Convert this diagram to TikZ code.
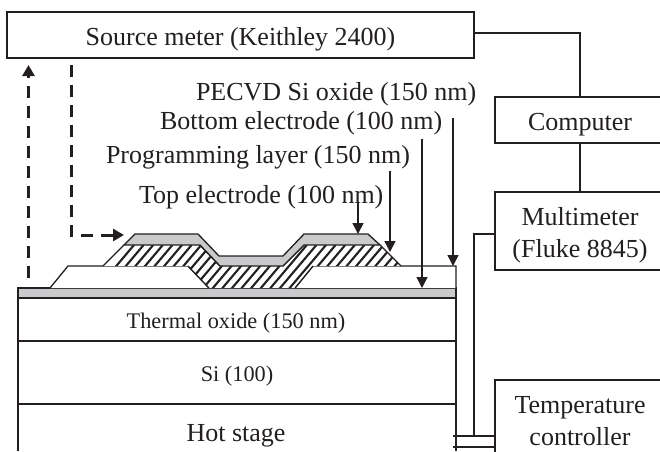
\documentclass[tikz,border=0pt]{standalone}
\usepackage{fontspec}
\setmainfont{Liberation Serif}
\usetikzlibrary{arrows.meta,calc}
\definecolor{ink}{HTML}{231F20}
\definecolor{greyfill}{HTML}{C8CACB}
\tikzset{
  x=1pt,y=-1pt,
  every node/.style={text=ink,inner sep=0pt,outer sep=0pt},
  box/.style={draw=ink,line width=1.4pt,fill=white,align=center,font=\fontsize{26}{32}\selectfont},
  oneline/.style={text height=20pt,text depth=0pt},
  wire/.style={draw=ink,line width=1.3pt},
  layer/.style={draw=ink,line width=1.3pt},
  callout/.style={font=\fontsize{26}{28}\selectfont,anchor=base west},
  pointer/.style={draw=ink,line width=1.5pt,-{Triangle[length=11pt,width=11pt]}},
  signal/.style={draw=ink,line width=3pt,dash pattern=on 12pt off 8pt,-{Triangle[length=11pt,width=12pt]}},
  laylabel/.style={font=\fontsize{22.3}{24}\selectfont,anchor=base},
}
\begin{document}
\begin{tikzpicture}
\useasboundingbox (0,0) rectangle (660,451);
\clip (0,0) rectangle (660,451);
\fill[white] (0,0) rectangle (660,451);

% stack
\draw[layer] (18,451) -- (18,288) -- (456,288) -- (456,451);
\draw[layer,fill=greyfill] (18,288) rectangle (456,298);
\draw[layer] (18,341) -- (456,341);
\draw[layer] (18,404) -- (456,404);
\node[laylabel] (thermal) at (236,328) {Thermal oxide (150 nm)};
\node[laylabel] (si) at (237,381) {Si (100)};
\node[font=\fontsize{26}{28}\selectfont,anchor=base] (hot) at (236,441) {Hot stage};

% PECVD oxide
\draw[layer,fill=white] (50,288) -- (68,266) -- (188,266) -- (209,288) -- (295,288) -- (313,266) -- (456,266) -- (456,288);

% programming layer (hatched)
\begin{scope}
  \clip (103,266) -- (124,245) -- (200,245) -- (220,266) -- (283,266) -- (304,245) -- (380,245) -- (401,266) -- (313,266) -- (295,288) -- (209,288) -- (188,266) -- cycle;
  \fill[white] (100,240) rectangle (405,290);
  \foreach \i in {0,...,36}{
    \draw[ink,line width=2.1pt] ({96+9.6*\i},290) -- ({96+9.6*\i+38},245);
  }
\end{scope}
\draw[layer] (103,266) -- (124,245);
\draw[layer] (200,245) -- (220,266);
\draw[layer] (188,266) -- (209,288);
\draw[layer] (295,288) -- (313,266);
\draw[layer] (283,266) -- (304,245);
\draw[layer] (380,245) -- (401,266);

% top electrode
\draw[layer,fill=greyfill] (124,245) -- (135,234) -- (198,234) -- (219,256) -- (283,256) -- (304,234) -- (368,234) -- (380,245) -- (304,245) -- (283,266) -- (220,266) -- (200,245) -- cycle;

% boxes
\node[box,oneline,minimum width=467pt,minimum height=46pt] (source) at (240.5,35) {Source meter (Keithley 2400)};
\node[box,oneline,minimum width=170pt,minimum height=46pt] (computer) at (580,120) {Computer};
\node[box,minimum width=170pt,minimum height=78pt] (multi) at (580,231) {\rule{0pt}{26pt}Multimeter\\(Fluke 8845)\rule[-6pt]{0pt}{6pt}};
\node[box,minimum width=170pt,minimum height=82pt] (temp) at (580,421) {Temperature\\controller};

% wires
\coordinate (wirecorner) at (580,33);
\draw[wire] (source.east |- 0,33) -- (wirecorner) -- (computer.north);
\draw[wire] (computer.south) -- (multi.north);
\coordinate (mleft) at (multi.west |- 0,234);
\coordinate (mfoot) at (474,436);
\draw[wire] (mleft) -- (474,234) -- (mfoot);
\coordinate (tA1) at (453,436);
\coordinate (tA2) at (temp.west |- 0,436);
\coordinate (tB1) at (453,447);
\coordinate (tB2) at (temp.west |- 0,447);
\draw[wire] (tA1) -- (tA2);
\draw[wire] (tB1) -- (tB2);

% callouts
\node[callout] (lpecvd) at (196,100) {PECVD Si oxide (150 nm)};
\node[callout] (lbottom) at (160,129) {Bottom electrode (100 nm)};
\node[callout] (lprog) at (106,163) {Programming layer (150 nm)};
\node[callout] (ltop) at (139,203) {Top electrode (100 nm)};

\coordinate (pa) at (453,118);
\coordinate (pb) at (453,266);
\coordinate (ba) at (422,139);
\coordinate (bb) at (422,288);
\coordinate (ga) at (390,171);
\coordinate (gb) at (390,252);
\coordinate (ta) at (358,202);
\coordinate (tb) at (358,234);
\draw[pointer] (pa) -- (pb);
\draw[pointer] (ba) -- (bb);
\draw[pointer] (ga) -- (gb);
\draw[pointer] (ta) -- (tb);

% dashed signal arrows
\coordinate (upS) at (28.5,278);
\coordinate (upE) at (28.5,65);
\draw[signal] (upS) -- (upE);
\coordinate (downS) at (71,65);
\coordinate (downC) at (71,235);
\coordinate (downE) at (124,235);
\draw[signal] (downS) -- (downC) -- (downE);
\end{tikzpicture}
\end{document}
